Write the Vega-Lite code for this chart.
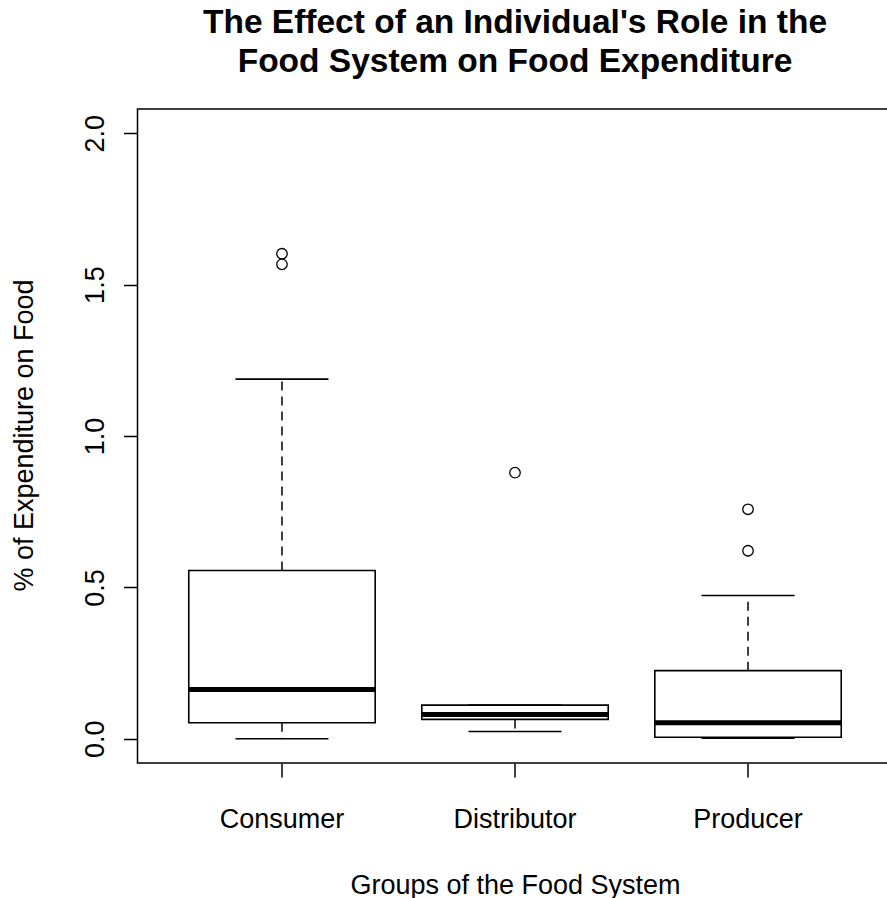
{
  "$schema": "https://vega.github.io/schema/vega-lite/v6.json",
  "usermeta": {"embedOptions": {"actions": false}},
  "autosize": {"type": "none"},
  "padding": {"left": 137.5, "top": 109, "right": -5.5, "bottom": 135},
  "width": 755,
  "height": 654,
  "background": "white",
  "config": {
    "view": {"stroke": "black", "strokeWidth": 1.5},
    "font": "Liberation Sans"
  },
  "title": {
    "text": ["The Effect of an Individual's Role in the", "Food System on Food Expenditure"],
    "fontSize": 33.5,
    "fontWeight": "bold",
    "font": "Liberation Sans",
    "color": "black",
    "lineHeight": 39,
    "anchor": "middle",
    "frame": "group",
    "baseline": "alphabetic",
    "offset": 3.5
  },
  "datasets": {
    "boxes": [
      {"group": "Consumer", "lower": 0.0, "q1": 0.053, "median": 0.163, "q3": 0.556, "upper": 1.188},
      {"group": "Distributor", "lower": 0.024, "q1": 0.064, "median": 0.08, "q3": 0.111, "upper": 0.111},
      {"group": "Producer", "lower": 0.002, "q1": 0.005, "median": 0.053, "q3": 0.225, "upper": 0.473}
    ],
    "outliers": [
      {"group": "Consumer", "value": 1.602},
      {"group": "Consumer", "value": 1.567},
      {"group": "Distributor", "value": 0.879},
      {"group": "Producer", "value": 0.758},
      {"group": "Producer", "value": 0.621}
    ]
  },
  "encoding": {
    "x": {
      "field": "group",
      "type": "nominal",
      "scale": {"domain": ["Consumer", "Distributor", "Producer"], "paddingInner": 0.2, "paddingOuter": 0.22},
      "axis": {
        "orient": "bottom",
        "bandPosition": 0.5,
        "domain": false,
        "grid": false,
        "ticks": true,
        "tickSize": 14,
        "tickWidth": 1.5,
        "tickColor": "black",
        "labelAngle": 0,
        "labelFontSize": 27,
        "labelColor": "black",
        "labelFont": "Liberation Sans",
        "labelBaseline": "alphabetic",
        "labelAlign": "center",
        "labelPadding": 50,
        "title": "Groups of the Food System",
        "titleFontSize": 27,
        "titleFont": "Liberation Sans",
        "titleFontWeight": "normal",
        "titleColor": "black",
        "titleBaseline": "alphabetic",
        "titleAlign": "center",
        "titleAnchor": null,
        "titleX": 377.5,
        "titleY": 130
      }
    }
  },
  "layer": [
    {
      "data": {"name": "boxes"},
      "mark": {"type": "rule", "color": "black", "strokeWidth": 1.5, "strokeDash": [9, 6]},
      "encoding": {
        "y": {
          "field": "q3",
          "type": "quantitative",
          "title": "% of Expenditure on Food",
          "scale": {"domain": [-0.08, 2.08], "nice": false, "zero": false},
          "axis": {
            "orient": "left",
            "values": [0, 0.5, 1, 1.5, 2],
            "format": ".1f",
            "domain": false,
            "grid": false,
            "tickSize": 14,
            "tickWidth": 1.5,
            "tickColor": "black",
            "labelAngle": 270,
            "labelAlign": "center",
            "labelBaseline": "alphabetic",
            "labelPadding": 20.5,
            "labelFontSize": 27,
            "labelFont": "Liberation Sans",
            "labelColor": "black",
            "labelFlush": false,
            "labelOverlap": false,
            "titleFontSize": 27,
            "titleFont": "Liberation Sans",
            "titleFontWeight": "normal",
            "titleColor": "black",
            "titleAngle": 270,
            "titleAlign": "center",
            "titleBaseline": "alphabetic",
            "titleAnchor": null,
            "titleX": -105.5,
            "titleY": 326
          }
        },
        "y2": {"field": "upper"}
      }
    },
    {
      "data": {"name": "boxes"},
      "mark": {"type": "rule", "color": "black", "strokeWidth": 1.5, "strokeDash": [9, 6]},
      "encoding": {
        "y": {"field": "q1", "type": "quantitative", "title": "% of Expenditure on Food"},
        "y2": {"field": "lower"}
      }
    },
    {
      "data": {"name": "boxes"},
      "mark": {"type": "bar", "fill": "white", "stroke": "black", "strokeWidth": 1.6},
      "encoding": {
        "y": {"field": "q1", "type": "quantitative", "title": "% of Expenditure on Food"},
        "y2": {"field": "q3"}
      }
    },
    {
      "data": {"name": "boxes"},
      "mark": {"type": "tick", "color": "black", "size": 187, "thickness": 5, "opacity": 1},
      "encoding": {
        "y": {"field": "median", "type": "quantitative", "title": "% of Expenditure on Food"}
      }
    },
    {
      "data": {"name": "boxes"},
      "mark": {"type": "tick", "color": "black", "size": 93, "thickness": 1.6, "opacity": 1},
      "encoding": {
        "y": {"field": "upper", "type": "quantitative", "title": "% of Expenditure on Food"}
      }
    },
    {
      "data": {"name": "boxes"},
      "mark": {"type": "tick", "color": "black", "size": 93, "thickness": 1.6, "opacity": 1},
      "encoding": {
        "y": {"field": "lower", "type": "quantitative", "title": "% of Expenditure on Food"}
      }
    },
    {
      "data": {"name": "outliers"},
      "mark": {"type": "point", "shape": "circle", "filled": false, "stroke": "black", "strokeWidth": 1.3, "size": 110, "opacity": 1},
      "encoding": {
        "y": {"field": "value", "type": "quantitative", "title": "% of Expenditure on Food"}
      }
    }
  ]
}
